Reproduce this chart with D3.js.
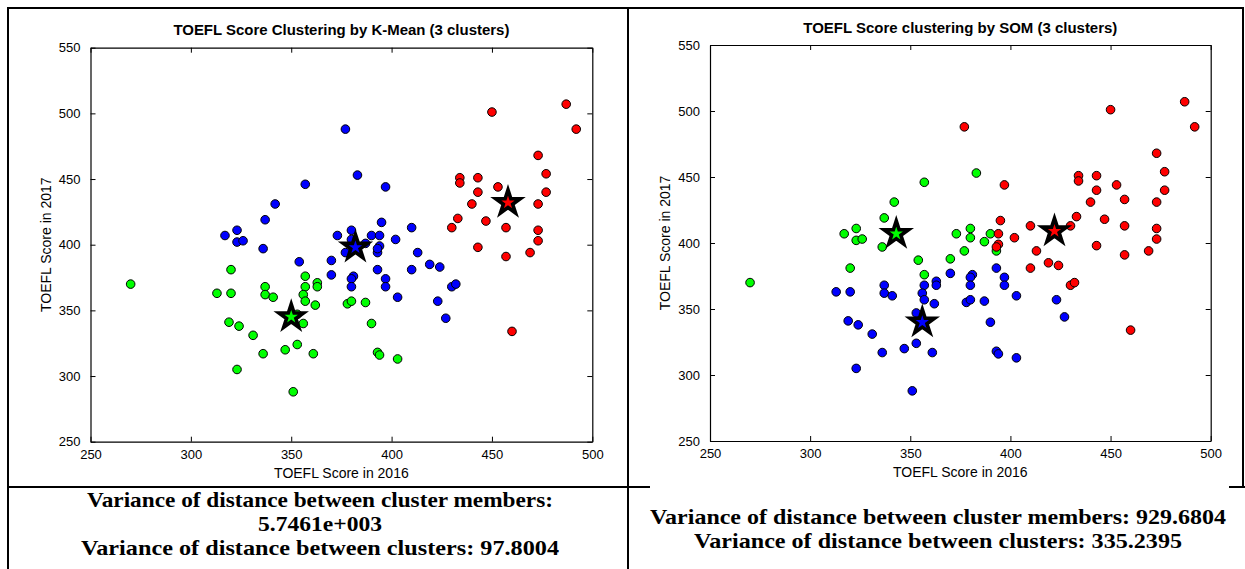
<!DOCTYPE html>
<html>
<head>
<meta charset="utf-8">
<script src="https://cdn.jsdelivr.net/npm/d3@7"></script>
<style>
  html, body { margin: 0; padding: 0; background: #fff; }
  svg { display: block; }
</style>
</head>
<body>
<svg id="chart" width="1245" height="569"></svg>
<script>
// ---------------- DATA ----------------
// TOEFL scores (2016 on x, 2017 on y); cluster ids: 1 = blue, 2 = green, 3 = red
const x2016 = [
  377,383,357,342,337,323,317,323,326,336,380,373,380,377,354,370,370,381,380,380,
  393,413,393,397,397,403,410,419,424,430,432,423,427,397,395,410,402,390,394,394,
  387,393,
  320,357,270,313,320,337,337,341,357,356,357,363,363,362,319,324,331,356,353,347,
  336,361,323,351,378,380,387,390,393,394,403,353,
  487,492,450,473,477,477,473,434,434,443,443,453,440,433,430,447,457,473,473,469,
  457,443,460,457
];
const y2017 = [
  488,453,446,431,419,411,407,402,403,397,411,407,404,394,387,388,377,376,374,368,
  394,394,381,374,368,360,381,385,383,368,370,357,344,444,417,413,404,407,407,399,
  401,397,
  381,376,370,363,363,368,362,360,368,362,357,371,368,354,341,338,331,340,324,320,
  317,317,305,288,355,357,356,340,318,316,313,347,
  507,488,501,468,454,440,431,451,447,451,440,444,431,420,413,418,413,411,403,394,
  391,398,334,433
];
const kmeansCluster = [
  1,1,1,1,1,1,1,1,1,1,1,1,1,1,1,1,1,1,1,1,
  1,1,1,1,1,1,1,1,1,1,1,1,1,1,1,1,1,1,1,1,
  1,1,
  2,2,2,2,2,2,2,2,2,2,2,2,2,2,2,2,2,2,2,2,
  2,2,2,2,2,2,2,2,2,2,2,2,
  3,3,3,3,3,3,3,3,3,3,3,3,3,3,3,3,3,3,3,3,
  3,3,3,3
];
const somCluster = [
  3,2,2,2,2,2,2,2,2,2,2,2,2,2,2,2,1,1,1,1,
  2,3,1,1,1,1,3,3,3,3,3,1,1,3,3,3,3,2,3,3,
  2,3,
  2,2,2,1,1,1,1,1,1,1,1,1,1,1,1,1,1,1,1,1,
  1,1,1,1,1,1,1,1,1,1,1,1,
  3,3,3,3,3,3,3,3,3,3,3,3,3,3,3,3,3,3,3,3,
  3,3,3,3
];
const kmeansCentroidX = [382, 350, 458];
const kmeansCentroidY = [398, 345, 432];
const kmeansCentroidCluster = [1, 2, 3];
const somCentroidX = [356, 343, 422];
const somCentroidY = [340, 407, 409];
const somCentroidCluster = [1, 2, 3];

const xTicks = [250, 300, 350, 400, 450, 500];
const yTicks = [250, 300, 350, 400, 450, 500, 550];

const titles = ["TOEFL Score Clustering by K-Mean (3 clusters)", "TOEFL Score clustering by SOM (3 clusters)"];
const xLabel = "TOEFL Score in 2016";
const yLabel = "TOEFL Score in 2017";
const leftNotes = ["Variance of distance between cluster members:", "5.7461e+003", "Variance of distance between clusters: 97.8004"];
const rightNotes = ["Variance of distance between cluster members: 929.6804", "Variance of distance between clusters: 335.2395"];

// ---------------- DRAWING ----------------
const svg = d3.select("#chart");
const colorOf = c => ({1: "#0000ff", 2: "#00ff00", 3: "#ff0000"})[c];
const sansFont = "'Liberation Sans', Arial, sans-serif";
const serifFont = "'Liberation Serif', 'Times New Roman', serif";

// frame lines
const frame = svg.append("g").attr("stroke", "#000").attr("stroke-width", 2);
frame.append("line").attr("x1", 7).attr("x2", 1244).attr("y1", 8).attr("y2", 8);
frame.append("line").attr("x1", 8).attr("x2", 8).attr("y1", 7).attr("y2", 569);
frame.append("line").attr("x1", 628).attr("x2", 628).attr("y1", 7).attr("y2", 569);
frame.append("line").attr("x1", 1243).attr("x2", 1243).attr("y1", 7).attr("y2", 487);
frame.append("line").attr("x1", 8).attr("x2", 628).attr("y1", 487).attr("y2", 487);
frame.append("line").attr("x1", 628).attr("x2", 650).attr("y1", 487).attr("y2", 487);
frame.append("line").attr("x1", 1229).attr("x2", 1245).attr("y1", 487).attr("y2", 487);

function drawPanel(cfg) {
  const x = d3.scaleLinear().domain([250, 500]).range([cfg.x0, cfg.x1]);
  const y = d3.scaleLinear().domain([250, 550]).range([cfg.y0, cfg.y1]);
  const g = svg.append("g");

  const tickLen = 5;
  const bottom = g.append("g").attr("transform", `translate(0,${cfg.y0})`)
    .call(d3.axisBottom(x).tickValues(xTicks).tickSizeInner(-tickLen).tickSizeOuter(0).tickPadding(8));
  const top = g.append("g").attr("transform", `translate(0,${cfg.y1})`)
    .call(d3.axisTop(x).tickValues(xTicks).tickSizeInner(-tickLen).tickSizeOuter(0).tickFormat(""));
  const left = g.append("g").attr("transform", `translate(${cfg.x0},0)`)
    .call(d3.axisLeft(y).tickValues(yTicks).tickSizeInner(-tickLen).tickSizeOuter(0).tickPadding(10));
  const right = g.append("g").attr("transform", `translate(${cfg.x1},0)`)
    .call(d3.axisRight(y).tickValues(yTicks).tickSizeInner(-tickLen).tickSizeOuter(0).tickFormat(""));
  [bottom, top, left, right].forEach(a => {
    a.select(".domain").attr("stroke", "#000").attr("stroke-width", 1.2);
    a.selectAll(".tick line").attr("stroke", "#000");
    a.selectAll("text").attr("font-family", sansFont).attr("font-size", 13).attr("fill", "#000");
  });
  left.selectAll(".tick text").attr("dy", "0.32em");

  g.append("text").attr("x", (cfg.x0 + cfg.x1) / 2).attr("y", cfg.titleY)
    .attr("text-anchor", "middle").attr("font-family", sansFont).attr("font-weight", "bold")
    .attr("font-size", 14).attr("textLength", cfg.titleLen).attr("lengthAdjust", "spacingAndGlyphs")
    .text(cfg.title);
  g.append("text").attr("x", (cfg.x0 + cfg.x1) / 2).attr("y", cfg.y0 + 36)
    .attr("text-anchor", "middle").attr("font-family", sansFont).attr("font-size", 14).text(xLabel);
  g.append("text").attr("transform", `translate(${cfg.x0 - 40},${(cfg.y0 + cfg.y1) / 2}) rotate(-90)`)
    .attr("text-anchor", "middle").attr("font-family", sansFont).attr("font-size", 14).text(yLabel);

  const idx = d3.range(x2016.length);
  g.append("g").selectAll("circle").data(idx).join("circle")
    .attr("cx", i => x(x2016[i])).attr("cy", i => y(y2017[i])).attr("r", 4.3)
    .attr("fill", i => colorOf(cfg.cluster[i])).attr("stroke", "#000").attr("stroke-width", 1);

  const star = d3.symbol().type(d3.symbolStar).size(185);
  g.append("g").selectAll("path").data(d3.range(cfg.cx.length)).join("path")
    .attr("d", star)
    .attr("transform", i => `translate(${x(cfg.cx[i])},${y(cfg.cy[i])})`)
    .attr("fill", i => colorOf(cfg.cc[i])).attr("stroke", "#000").attr("stroke-width", 3.6)
    .attr("stroke-linejoin", "miter");
}

drawPanel({x0: 90.5, x1: 592.3, y0: 441.7, y1: 47.7, title: titles[0], titleY: 35, titleLen: 336,
  cluster: kmeansCluster, cx: kmeansCentroidX, cy: kmeansCentroidY, cc: kmeansCentroidCluster});
drawPanel({x0: 710, x1: 1210.7, y0: 441, y1: 45, title: titles[1], titleY: 33, titleLen: 314,
  cluster: somCluster, cx: somCentroidX, cy: somCentroidY, cc: somCentroidCluster});

// notes
const notes = svg.append("g").attr("font-family", serifFont).attr("font-weight", "bold")
  .attr("font-size", 21).attr("text-anchor", "middle").attr("fill", "#000")
  .attr("lengthAdjust", "spacingAndGlyphs");
const leftBase = [507, 531, 555];
const leftLen = [466, 124, 478];
leftNotes.forEach((t, i) => notes.append("text").attr("x", 320).attr("y", leftBase[i])
  .attr("textLength", leftLen[i]).attr("lengthAdjust", "spacingAndGlyphs").text(t));
const rightBase = [524, 548];
const rightLen = [576, 488];
rightNotes.forEach((t, i) => notes.append("text").attr("x", 938).attr("y", rightBase[i])
  .attr("textLength", rightLen[i]).attr("lengthAdjust", "spacingAndGlyphs").text(t));
</script>
</body>
</html>
